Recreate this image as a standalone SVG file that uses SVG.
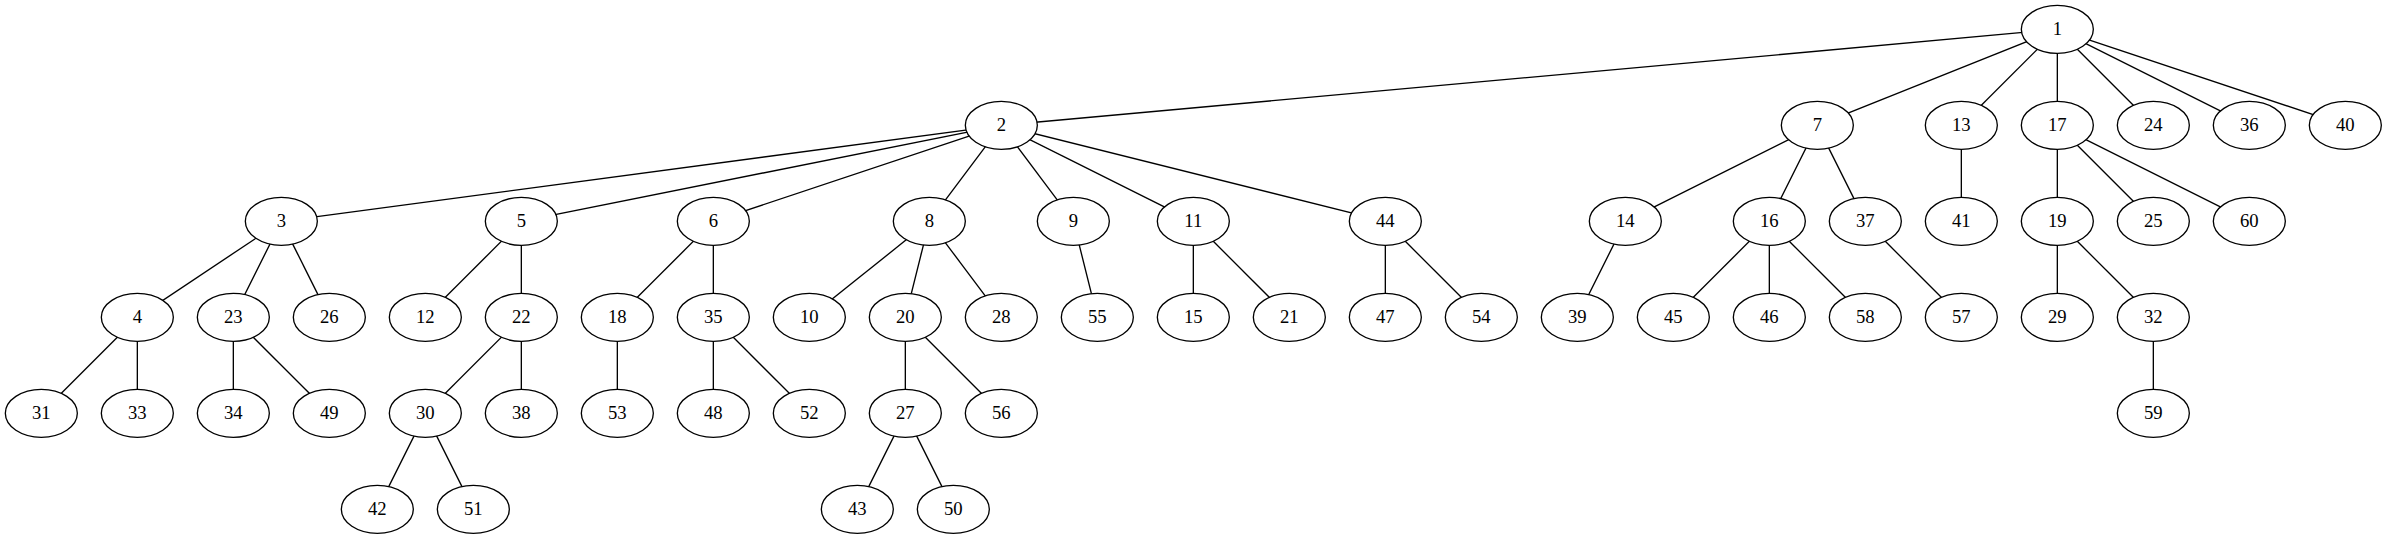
<svg xmlns="http://www.w3.org/2000/svg" width="2387" height="539" viewBox="0 0 2387 539">
<style>
.node ellipse{fill:#fff;stroke:#000;stroke-width:1}
.node text{font-family:"Liberation Serif","Times New Roman",serif;font-size:14px;text-anchor:middle;fill:#000}
#edges line{stroke:#000;stroke-width:1}
</style>
<rect width="2387" height="539" fill="#fff"/>
<g transform="scale(1.3333333)">
<g id="edges">
<line x1="1543" y1="22" x2="751" y2="94"/>
<line x1="1543" y1="22" x2="1363" y2="94"/>
<line x1="1543" y1="22" x2="1471" y2="94"/>
<line x1="1543" y1="22" x2="1543" y2="94"/>
<line x1="1543" y1="22" x2="1615" y2="94"/>
<line x1="1543" y1="22" x2="1687" y2="94"/>
<line x1="1543" y1="22" x2="1759" y2="94"/>
<line x1="751" y1="94" x2="211" y2="166"/>
<line x1="751" y1="94" x2="391" y2="166"/>
<line x1="751" y1="94" x2="535" y2="166"/>
<line x1="751" y1="94" x2="697" y2="166"/>
<line x1="751" y1="94" x2="805" y2="166"/>
<line x1="751" y1="94" x2="895" y2="166"/>
<line x1="751" y1="94" x2="1039" y2="166"/>
<line x1="211" y1="166" x2="103" y2="238"/>
<line x1="211" y1="166" x2="175" y2="238"/>
<line x1="211" y1="166" x2="247" y2="238"/>
<line x1="103" y1="238" x2="31" y2="310"/>
<line x1="103" y1="238" x2="103" y2="310"/>
<line x1="175" y1="238" x2="175" y2="310"/>
<line x1="175" y1="238" x2="247" y2="310"/>
<line x1="391" y1="166" x2="319" y2="238"/>
<line x1="391" y1="166" x2="391" y2="238"/>
<line x1="391" y1="238" x2="319" y2="310"/>
<line x1="391" y1="238" x2="391" y2="310"/>
<line x1="319" y1="310" x2="283" y2="382"/>
<line x1="319" y1="310" x2="355" y2="382"/>
<line x1="535" y1="166" x2="463" y2="238"/>
<line x1="535" y1="166" x2="535" y2="238"/>
<line x1="463" y1="238" x2="463" y2="310"/>
<line x1="535" y1="238" x2="535" y2="310"/>
<line x1="535" y1="238" x2="607" y2="310"/>
<line x1="697" y1="166" x2="607" y2="238"/>
<line x1="697" y1="166" x2="679" y2="238"/>
<line x1="697" y1="166" x2="751" y2="238"/>
<line x1="679" y1="238" x2="679" y2="310"/>
<line x1="679" y1="238" x2="751" y2="310"/>
<line x1="679" y1="310" x2="643" y2="382"/>
<line x1="679" y1="310" x2="715" y2="382"/>
<line x1="805" y1="166" x2="823" y2="238"/>
<line x1="895" y1="166" x2="895" y2="238"/>
<line x1="895" y1="166" x2="967" y2="238"/>
<line x1="1039" y1="166" x2="1039" y2="238"/>
<line x1="1039" y1="166" x2="1111" y2="238"/>
<line x1="1363" y1="94" x2="1219" y2="166"/>
<line x1="1363" y1="94" x2="1327" y2="166"/>
<line x1="1363" y1="94" x2="1399" y2="166"/>
<line x1="1219" y1="166" x2="1183" y2="238"/>
<line x1="1327" y1="166" x2="1255" y2="238"/>
<line x1="1327" y1="166" x2="1327" y2="238"/>
<line x1="1327" y1="166" x2="1399" y2="238"/>
<line x1="1399" y1="166" x2="1471" y2="238"/>
<line x1="1471" y1="94" x2="1471" y2="166"/>
<line x1="1543" y1="94" x2="1543" y2="166"/>
<line x1="1543" y1="94" x2="1615" y2="166"/>
<line x1="1543" y1="94" x2="1687" y2="166"/>
<line x1="1543" y1="166" x2="1543" y2="238"/>
<line x1="1543" y1="166" x2="1615" y2="238"/>
<line x1="1615" y1="238" x2="1615" y2="310"/>
</g>
<g id="n1" class="node"><ellipse cx="1543" cy="22" rx="27" ry="18"/><text x="1543" y="26.2">1</text></g>
<g id="n2" class="node"><ellipse cx="751" cy="94" rx="27" ry="18"/><text x="751" y="98.2">2</text></g>
<g id="n7" class="node"><ellipse cx="1363" cy="94" rx="27" ry="18"/><text x="1363" y="98.2">7</text></g>
<g id="n13" class="node"><ellipse cx="1471" cy="94" rx="27" ry="18"/><text x="1471" y="98.2">13</text></g>
<g id="n17" class="node"><ellipse cx="1543" cy="94" rx="27" ry="18"/><text x="1543" y="98.2">17</text></g>
<g id="n24" class="node"><ellipse cx="1615" cy="94" rx="27" ry="18"/><text x="1615" y="98.2">24</text></g>
<g id="n36" class="node"><ellipse cx="1687" cy="94" rx="27" ry="18"/><text x="1687" y="98.2">36</text></g>
<g id="n40" class="node"><ellipse cx="1759" cy="94" rx="27" ry="18"/><text x="1759" y="98.2">40</text></g>
<g id="n3" class="node"><ellipse cx="211" cy="166" rx="27" ry="18"/><text x="211" y="170.2">3</text></g>
<g id="n5" class="node"><ellipse cx="391" cy="166" rx="27" ry="18"/><text x="391" y="170.2">5</text></g>
<g id="n6" class="node"><ellipse cx="535" cy="166" rx="27" ry="18"/><text x="535" y="170.2">6</text></g>
<g id="n8" class="node"><ellipse cx="697" cy="166" rx="27" ry="18"/><text x="697" y="170.2">8</text></g>
<g id="n9" class="node"><ellipse cx="805" cy="166" rx="27" ry="18"/><text x="805" y="170.2">9</text></g>
<g id="n11" class="node"><ellipse cx="895" cy="166" rx="27" ry="18"/><text x="895" y="170.2">11</text></g>
<g id="n44" class="node"><ellipse cx="1039" cy="166" rx="27" ry="18"/><text x="1039" y="170.2">44</text></g>
<g id="n14" class="node"><ellipse cx="1219" cy="166" rx="27" ry="18"/><text x="1219" y="170.2">14</text></g>
<g id="n16" class="node"><ellipse cx="1327" cy="166" rx="27" ry="18"/><text x="1327" y="170.2">16</text></g>
<g id="n37" class="node"><ellipse cx="1399" cy="166" rx="27" ry="18"/><text x="1399" y="170.2">37</text></g>
<g id="n41" class="node"><ellipse cx="1471" cy="166" rx="27" ry="18"/><text x="1471" y="170.2">41</text></g>
<g id="n19" class="node"><ellipse cx="1543" cy="166" rx="27" ry="18"/><text x="1543" y="170.2">19</text></g>
<g id="n25" class="node"><ellipse cx="1615" cy="166" rx="27" ry="18"/><text x="1615" y="170.2">25</text></g>
<g id="n60" class="node"><ellipse cx="1687" cy="166" rx="27" ry="18"/><text x="1687" y="170.2">60</text></g>
<g id="n4" class="node"><ellipse cx="103" cy="238" rx="27" ry="18"/><text x="103" y="242.2">4</text></g>
<g id="n23" class="node"><ellipse cx="175" cy="238" rx="27" ry="18"/><text x="175" y="242.2">23</text></g>
<g id="n26" class="node"><ellipse cx="247" cy="238" rx="27" ry="18"/><text x="247" y="242.2">26</text></g>
<g id="n12" class="node"><ellipse cx="319" cy="238" rx="27" ry="18"/><text x="319" y="242.2">12</text></g>
<g id="n22" class="node"><ellipse cx="391" cy="238" rx="27" ry="18"/><text x="391" y="242.2">22</text></g>
<g id="n18" class="node"><ellipse cx="463" cy="238" rx="27" ry="18"/><text x="463" y="242.2">18</text></g>
<g id="n35" class="node"><ellipse cx="535" cy="238" rx="27" ry="18"/><text x="535" y="242.2">35</text></g>
<g id="n10" class="node"><ellipse cx="607" cy="238" rx="27" ry="18"/><text x="607" y="242.2">10</text></g>
<g id="n20" class="node"><ellipse cx="679" cy="238" rx="27" ry="18"/><text x="679" y="242.2">20</text></g>
<g id="n28" class="node"><ellipse cx="751" cy="238" rx="27" ry="18"/><text x="751" y="242.2">28</text></g>
<g id="n55" class="node"><ellipse cx="823" cy="238" rx="27" ry="18"/><text x="823" y="242.2">55</text></g>
<g id="n15" class="node"><ellipse cx="895" cy="238" rx="27" ry="18"/><text x="895" y="242.2">15</text></g>
<g id="n21" class="node"><ellipse cx="967" cy="238" rx="27" ry="18"/><text x="967" y="242.2">21</text></g>
<g id="n47" class="node"><ellipse cx="1039" cy="238" rx="27" ry="18"/><text x="1039" y="242.2">47</text></g>
<g id="n54" class="node"><ellipse cx="1111" cy="238" rx="27" ry="18"/><text x="1111" y="242.2">54</text></g>
<g id="n39" class="node"><ellipse cx="1183" cy="238" rx="27" ry="18"/><text x="1183" y="242.2">39</text></g>
<g id="n45" class="node"><ellipse cx="1255" cy="238" rx="27" ry="18"/><text x="1255" y="242.2">45</text></g>
<g id="n46" class="node"><ellipse cx="1327" cy="238" rx="27" ry="18"/><text x="1327" y="242.2">46</text></g>
<g id="n58" class="node"><ellipse cx="1399" cy="238" rx="27" ry="18"/><text x="1399" y="242.2">58</text></g>
<g id="n57" class="node"><ellipse cx="1471" cy="238" rx="27" ry="18"/><text x="1471" y="242.2">57</text></g>
<g id="n29" class="node"><ellipse cx="1543" cy="238" rx="27" ry="18"/><text x="1543" y="242.2">29</text></g>
<g id="n32" class="node"><ellipse cx="1615" cy="238" rx="27" ry="18"/><text x="1615" y="242.2">32</text></g>
<g id="n31" class="node"><ellipse cx="31" cy="310" rx="27" ry="18"/><text x="31" y="314.2">31</text></g>
<g id="n33" class="node"><ellipse cx="103" cy="310" rx="27" ry="18"/><text x="103" y="314.2">33</text></g>
<g id="n34" class="node"><ellipse cx="175" cy="310" rx="27" ry="18"/><text x="175" y="314.2">34</text></g>
<g id="n49" class="node"><ellipse cx="247" cy="310" rx="27" ry="18"/><text x="247" y="314.2">49</text></g>
<g id="n30" class="node"><ellipse cx="319" cy="310" rx="27" ry="18"/><text x="319" y="314.2">30</text></g>
<g id="n38" class="node"><ellipse cx="391" cy="310" rx="27" ry="18"/><text x="391" y="314.2">38</text></g>
<g id="n53" class="node"><ellipse cx="463" cy="310" rx="27" ry="18"/><text x="463" y="314.2">53</text></g>
<g id="n48" class="node"><ellipse cx="535" cy="310" rx="27" ry="18"/><text x="535" y="314.2">48</text></g>
<g id="n52" class="node"><ellipse cx="607" cy="310" rx="27" ry="18"/><text x="607" y="314.2">52</text></g>
<g id="n27" class="node"><ellipse cx="679" cy="310" rx="27" ry="18"/><text x="679" y="314.2">27</text></g>
<g id="n56" class="node"><ellipse cx="751" cy="310" rx="27" ry="18"/><text x="751" y="314.2">56</text></g>
<g id="n59" class="node"><ellipse cx="1615" cy="310" rx="27" ry="18"/><text x="1615" y="314.2">59</text></g>
<g id="n42" class="node"><ellipse cx="283" cy="382" rx="27" ry="18"/><text x="283" y="386.2">42</text></g>
<g id="n51" class="node"><ellipse cx="355" cy="382" rx="27" ry="18"/><text x="355" y="386.2">51</text></g>
<g id="n43" class="node"><ellipse cx="643" cy="382" rx="27" ry="18"/><text x="643" y="386.2">43</text></g>
<g id="n50" class="node"><ellipse cx="715" cy="382" rx="27" ry="18"/><text x="715" y="386.2">50</text></g>
</g>
</svg>
